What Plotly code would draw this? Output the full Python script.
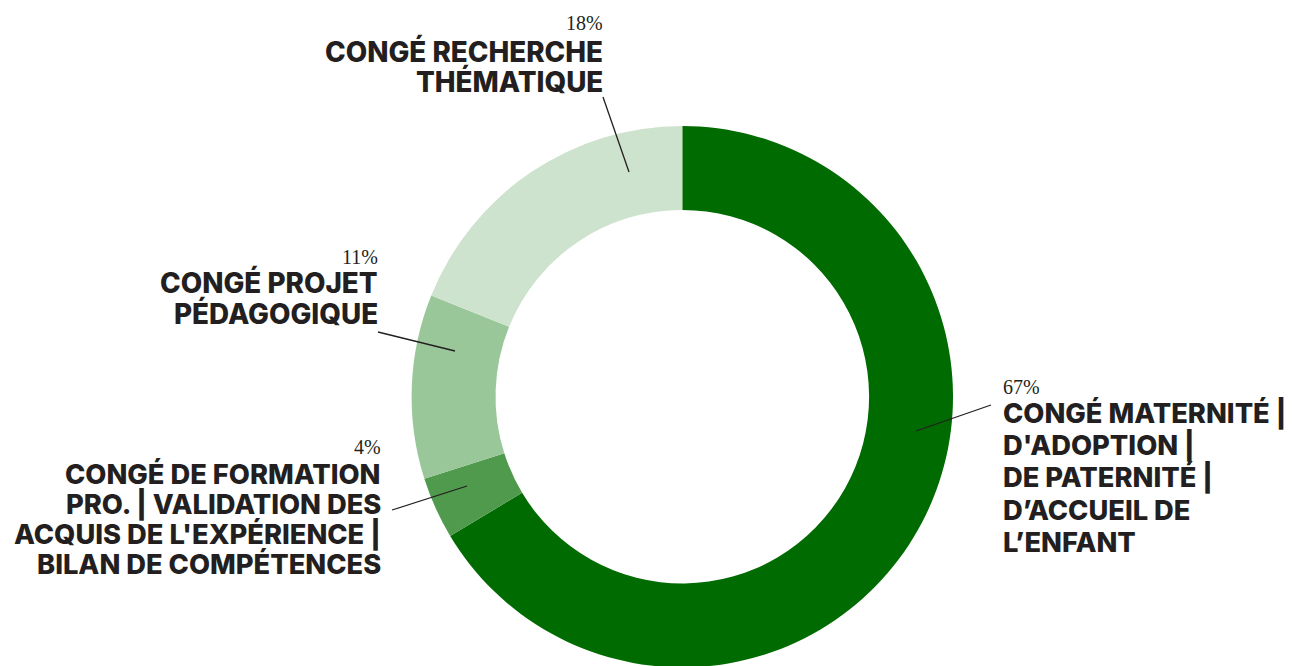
import plotly.graph_objects as go

# ---- data ----
categories = [
    "Congé maternité | d'adoption | de paternité | d'accueil de l'enfant",
    "Congé de formation pro. | VAE | bilan de compétences",
    "Congé projet pédagogique",
    "Congé recherche thématique",
]
slice_values = [66.4, 3.7, 11.0, 18.9]
pct_labels = ["67%", "4%", "11%", "18%"]
label_lines = [
    ["CONGÉ MATERNITÉ |", "D'ADOPTION |", "DE PATERNITÉ |", "D’ACCUEIL DE", "L’ENFANT"],
    ["CONGÉ DE FORMATION", "PRO. | VALIDATION DES", "ACQUIS DE L'EXPÉRIENCE |", "BILAN DE COMPÉTENCES"],
    ["CONGÉ PROJET", "PÉDAGOGIQUE"],
    ["CONGÉ RECHERCHE", "THÉMATIQUE"],
]
colors = ["#006b00", "#4f9a4d", "#9ac79a", "#cde3cd"]

# ---- layout (screen pixels; page body adds an 8px offset) ----
W, H = 1292, 666
OFF = 8
CX, CY, R_OUT = 682.3, 396.7, 270.7
HOLE = 0.69
TEXT_COLOR = "#231f20"
LABEL_FONT = "Inter"
label_layout = [
    dict(anchor="left", x=1003, pct_y=387, first_y=413, step=32.4, size=27.3, line=((916, 431), (991, 405))),
    dict(anchor="right", x=381, pct_y=447, first_y=474, step=30, size=27.3, line=((467, 486), (392, 510))),
    dict(anchor="right", x=378, pct_y=257, first_y=282.5, step=31, size=27.8, line=((455, 351), (378, 332))),
    dict(anchor="right", x=603, pct_y=23, first_y=52, step=29, size=27.8, line=((629, 172), (603, 97))),
]


def px(x):
    return (x - OFF) / W


def py(y):
    return 1 - (y - OFF) / H


fig = go.Figure(
    go.Pie(
        labels=categories,
        values=slice_values,
        hole=HOLE,
        sort=False,
        direction="clockwise",
        rotation=0,
        marker=dict(colors=colors, line=dict(width=0)),
        textinfo="none",
        hoverinfo="none",
        showlegend=False,
        domain=dict(
            x=[px(CX - R_OUT), px(CX + R_OUT)],
            y=[py(CY + R_OUT), py(CY - R_OUT)],
        ),
    )
)

annotations = []
shapes = []
for lines, pct, lay in zip(label_lines, pct_labels, label_layout):
    annotations.append(
        dict(
            x=px(lay["x"]), y=py(lay["pct_y"]), xref="paper", yref="paper",
            text=pct, showarrow=False, xanchor=lay["anchor"], yanchor="middle",
            borderpad=0, borderwidth=0, height=20,
            font=dict(family="Liberation Serif", size=20, color=TEXT_COLOR),
        )
    )
    for i, ln in enumerate(lines):
        annotations.append(
            dict(
                x=px(lay["x"]), y=py(lay["first_y"] + i * lay["step"]), xref="paper", yref="paper",
                text=ln, showarrow=False, xanchor=lay["anchor"], yanchor="middle",
                borderpad=0, borderwidth=0,
                font=dict(family=LABEL_FONT, size=lay["size"], color=TEXT_COLOR, weight=800),
            )
        )
    (x0, y0), (x1, y1) = lay["line"]
    shapes.append(
        dict(type="line", xref="paper", yref="paper", x0=px(x0), y0=py(y0), x1=px(x1), y1=py(y1),
             line=dict(color=TEXT_COLOR, width=1.3))
    )

fig.update_layout(
    width=W, height=H,
    margin=dict(l=0, r=0, t=0, b=0),
    paper_bgcolor="white", plot_bgcolor="white",
    annotations=annotations, shapes=shapes,
)

fig.write_html("out.html")
